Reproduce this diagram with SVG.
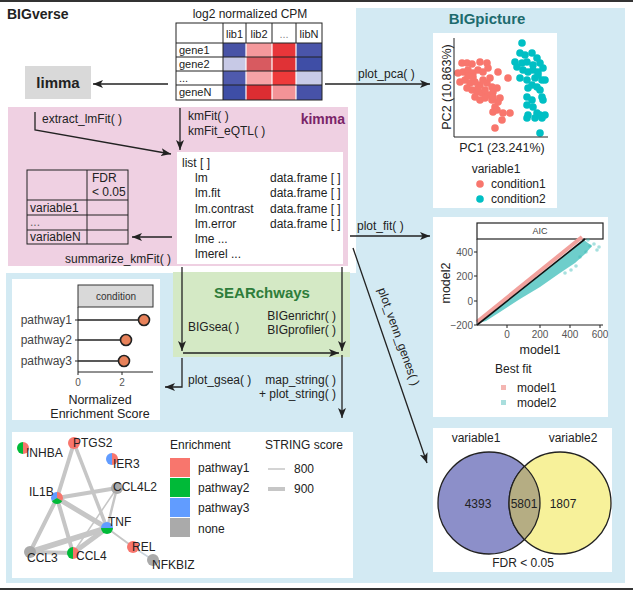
<svg xmlns="http://www.w3.org/2000/svg" width="633" height="591" viewBox="0 0 633 591">
<defs>
<style>
text{font-family:"Liberation Sans",Arial,Helvetica,sans-serif;fill:#222}
.t12{font-size:12px}
.t11{font-size:11px}
.t10{font-size:10px}
.t9{font-size:9px}
.b{font-weight:bold}
.mid{text-anchor:middle}
.end{text-anchor:end}
.ln{stroke:#222;stroke-width:1.3;fill:none}
.arr{marker-end:url(#ah)}
.grid{stroke:#222;stroke-width:1;fill:none}
.ax{stroke:#222;stroke-width:1;fill:none}
.tk{fill:#555}
.c1{fill:#F8766D}
.c2{fill:#00BFC4}
.edge{stroke:#c6c6c6;stroke-linecap:round;fill:none}
.panel{fill:#ffffff}
</style>
<marker id="ah" viewBox="0 0 10 8" refX="10" refY="4" markerWidth="10" markerHeight="8" markerUnits="userSpaceOnUse" orient="auto"><path d="M0,0 L10,4 L0,8 L2.5,4 Z" fill="#222"/></marker>
</defs>

<rect x="0" y="0" width="633" height="591" fill="#ffffff"/>
<line x1="0" y1="1" x2="633" y2="1" stroke="#333" stroke-width="2"/>
<line x1="0" y1="589" x2="633" y2="589" stroke="#333" stroke-width="2"/>

<!-- backgrounds -->
<path id="bigpicture-bg" d="M356,8 H625 V583 H6 V273 H356 Z" fill="#d3eaf3"/>
<rect id="kimma-bg" x="8" y="107" width="340" height="159" fill="#efd0e2"/>

<text class="b" x="7" y="19" style="font-size:14px">BIGverse</text>
<text class="b mid" x="487" y="24" style="font-size:15px;fill:#1d6b6e">BIGpicture</text>

<!-- heatmap node -->
<g id="heatmap">
<text class="t12 mid" x="250" y="18">log2 normalized CPM</text>
<rect x="176" y="23" width="146" height="77" fill="#fff"/>
<rect x="223" y="43" width="23" height="14" fill="#4853a6"/>
<rect x="246" y="43" width="26" height="14" fill="#f4999c"/>
<rect x="272" y="43" width="24" height="14" fill="#e8363a"/>
<rect x="296" y="43" width="26" height="14" fill="#4a55a9"/>
<rect x="223" y="57" width="23" height="14" fill="#c7c9e6"/>
<rect x="246" y="57" width="26" height="14" fill="#d85a60"/>
<rect x="272" y="57" width="24" height="14" fill="#e03236"/>
<rect x="296" y="57" width="26" height="14" fill="#3f4ea6"/>
<rect x="223" y="71" width="23" height="14" fill="#4f5aad"/>
<rect x="246" y="71" width="26" height="14" fill="#f6a3a6"/>
<rect x="272" y="71" width="24" height="14" fill="#ee3a3a"/>
<rect x="296" y="71" width="26" height="14" fill="#c8cbe8"/>
<rect x="223" y="85" width="23" height="15" fill="#3e4ea6"/>
<rect x="246" y="85" width="26" height="15" fill="#dc2d32"/>
<rect x="272" y="85" width="24" height="15" fill="#f39397"/>
<rect x="296" y="85" width="26" height="15" fill="#4752a8"/>
<g stroke="#fff" stroke-width="1.2">
<line x1="246" y1="43" x2="246" y2="100"/><line x1="272" y1="43" x2="272" y2="100"/><line x1="296" y1="43" x2="296" y2="100"/>
</g>
<rect class="grid" x="176" y="23" width="146" height="77"/>
<g class="grid">
<line x1="176" y1="43" x2="322" y2="43"/>
<line x1="176" y1="57" x2="322" y2="57"/>
<line x1="176" y1="71" x2="322" y2="71"/>
<line x1="176" y1="85" x2="322" y2="85"/>
<line x1="223" y1="23" x2="223" y2="100"/>
<line x1="246" y1="23" x2="246" y2="43"/>
<line x1="272" y1="23" x2="272" y2="43"/>
<line x1="296" y1="23" x2="296" y2="43"/>
</g>
<text class="t11 mid" x="234.5" y="38">lib1</text>
<text class="t11 mid" x="259" y="38">lib2</text>
<text class="t11 mid" x="284" y="38" style="fill:#888">...</text>
<text class="t11 mid" x="309" y="38">libN</text>
<text class="t11" x="179" y="54">gene1</text>
<text class="t11" x="179" y="68">gene2</text>
<text class="t11" x="179" y="82">...</text>
<text class="t11" x="179" y="96">geneN</text>
</g>

<!-- limma node -->
<g id="limma">
<rect x="25" y="66" width="66" height="33" fill="#d9d9d9"/>
<text class="b mid" x="58" y="88" style="font-size:15px">limma</text>
</g>

<!-- kimma -->
<g id="kimma">
<text class="b end" x="345" y="124" style="font-size:14px;fill:#7a2468">kimma</text>
<rect x="177" y="152" width="166" height="112" fill="#fff"/>
<text class="t12" x="182" y="167">list [ ]</text>
<text class="t12" x="195" y="182">lm</text><text class="t12" x="270" y="182">data.frame [ ]</text>
<text class="t12" x="195" y="197">lm.fit</text><text class="t12" x="270" y="197">data.frame [ ]</text>
<text class="t12" x="195" y="213">lm.contrast</text><text class="t12" x="270" y="213">data.frame [ ]</text>
<text class="t12" x="195" y="228">lm.error</text><text class="t12" x="270" y="228">data.frame [ ]</text>
<text class="t12" x="195" y="243">lme ...</text>
<text class="t12" x="195" y="258">lmerel ...</text>
</g>

<!-- FDR table -->
<g id="fdr-table">
<rect x="27" y="170" width="101" height="74" fill="#fff" class="grid"/>
<g class="grid">
<line x1="87" y1="170" x2="87" y2="244"/>
<line x1="27" y1="200" x2="128" y2="200"/>
<line x1="27" y1="215" x2="128" y2="215"/>
<line x1="27" y1="230" x2="128" y2="230"/>
</g>
<text class="t12" x="92" y="182">FDR</text>
<text class="t12" x="92" y="196">&lt; 0.05</text>
<text class="t12" x="30" y="212">variable1</text>
<text class="t12" x="30" y="226" style="fill:#666">...</text>
<text class="t12" x="30" y="241">variableN</text>
</g>

<!-- SEARchways -->
<g id="searchways">
<rect x="173" y="272" width="177" height="85" fill="#d4e9c5"/>
<text class="b mid" x="262" y="298" style="font-size:15px;fill:#2e7d3a">SEARchways</text>
<text class="t12" x="188" y="331">BIGsea( )</text>
<text class="t12 end" x="336" y="320">BIGenrichr( )</text>
<text class="t12 end" x="336" y="334">BIGprofiler( )</text>
</g>

<!-- PCA plot -->
<g id="pca-plot">
<rect class="panel" x="433" y="33" width="124" height="175"/>
<g class="c1">
<circle cx="462" cy="63" r="3.8"/><circle cx="467" cy="63" r="3.8"/><circle cx="472" cy="64" r="3.8"/><circle cx="480" cy="62" r="3.8"/><circle cx="487" cy="63" r="3.8"/>
<circle cx="458" cy="73" r="3.8"/><circle cx="463" cy="72" r="3.8"/><circle cx="468" cy="70" r="3.8"/><circle cx="473" cy="73" r="3.8"/><circle cx="478" cy="70" r="3.8"/>
<circle cx="483" cy="72" r="3.8"/><circle cx="488" cy="68" r="3.8"/><circle cx="498" cy="72" r="3.8"/><circle cx="460" cy="82" r="3.8"/><circle cx="465" cy="80" r="3.8"/>
<circle cx="470" cy="83" r="3.8"/><circle cx="475" cy="82" r="3.8"/><circle cx="480" cy="85" r="3.8"/><circle cx="487" cy="83" r="3.8"/><circle cx="492" cy="87" r="3.8"/>
<circle cx="497" cy="88" r="3.8"/><circle cx="467" cy="88" r="3.8"/><circle cx="472" cy="90" r="3.8"/><circle cx="477" cy="92" r="3.8"/><circle cx="482" cy="93" r="3.8"/>
<circle cx="488" cy="95" r="3.8"/><circle cx="493" cy="92" r="3.8"/><circle cx="500" cy="98" r="3.8"/><circle cx="475" cy="97" r="3.8"/><circle cx="480" cy="100" r="3.8"/>
<circle cx="485" cy="98" r="3.8"/><circle cx="492" cy="100" r="3.8"/><circle cx="495" cy="107" r="3.8"/><circle cx="493" cy="112" r="3.8"/><circle cx="497" cy="110" r="3.8"/>
<circle cx="503" cy="113" r="3.8"/><circle cx="510" cy="113" r="3.8"/><circle cx="502" cy="120" r="3.8"/><circle cx="495" cy="128" r="3.8"/><circle cx="508" cy="78" r="3.8"/>
<circle cx="468" cy="76" r="3.8"/><circle cx="473" cy="77" r="3.8"/><circle cx="483" cy="80" r="3.8"/><circle cx="490" cy="78" r="3.8"/><circle cx="478" cy="88" r="3.8"/>
<circle cx="485" cy="90" r="3.8"/><circle cx="493" cy="97" r="3.8"/><circle cx="498" cy="102" r="3.8"/>
</g>
<g class="c2">
<circle cx="522" cy="43" r="3.8"/><circle cx="520" cy="53" r="3.8"/><circle cx="525" cy="55" r="3.8"/><circle cx="532" cy="53" r="3.8"/><circle cx="537" cy="58" r="3.8"/>
<circle cx="515" cy="62" r="3.8"/><circle cx="522" cy="63" r="3.8"/><circle cx="527" cy="62" r="3.8"/><circle cx="533" cy="65" r="3.8"/><circle cx="540" cy="63" r="3.8"/>
<circle cx="543" cy="68" r="3.8"/><circle cx="523" cy="70" r="3.8"/><circle cx="528" cy="72" r="3.8"/><circle cx="533" cy="70" r="3.8"/><circle cx="538" cy="72" r="3.8"/>
<circle cx="520" cy="78" r="3.8"/><circle cx="527" cy="80" r="3.8"/><circle cx="535" cy="78" r="3.8"/><circle cx="542" cy="80" r="3.8"/><circle cx="545" cy="80" r="3.8"/>
<circle cx="532" cy="85" r="3.8"/><circle cx="537" cy="87" r="3.8"/><circle cx="540" cy="90" r="3.8"/><circle cx="528" cy="88" r="3.8"/><circle cx="527" cy="97" r="3.8"/>
<circle cx="532" cy="100" r="3.8"/><circle cx="542" cy="97" r="3.8"/><circle cx="543" cy="100" r="3.8"/><circle cx="527" cy="105" r="3.8"/><circle cx="533" cy="107" r="3.8"/>
<circle cx="528" cy="115" r="3.8"/><circle cx="537" cy="113" r="3.8"/><circle cx="540" cy="115" r="3.8"/><circle cx="545" cy="115" r="3.8"/><circle cx="527" cy="118" r="3.8"/>
<circle cx="535" cy="118" r="3.8"/><circle cx="542" cy="118" r="3.8"/><circle cx="540" cy="133" r="3.8"/><circle cx="517" cy="67" r="3.8"/><circle cx="538" cy="75" r="3.8"/>
</g>
<polyline class="ax" points="454,38 454,137 548,137"/>
<text class="mid" x="451" y="87" transform="rotate(-90 451 87)" style="font-size:12.5px">PC2 (10.863%)</text>
<text class="mid" x="502" y="152" style="font-size:12.5px">PC1 (23.241%)</text>
<text class="t12 mid" x="496" y="173">variable1</text>
<circle class="c1" cx="480" cy="184" r="3.8"/>
<text class="t12" x="491" y="188">condition1</text>
<circle class="c2" cx="480" cy="199" r="3.8"/>
<text class="t12" x="491" y="203">condition2</text>
</g>

<!-- AIC plot -->
<g id="aic-plot">
<rect class="panel" x="433" y="217" width="175" height="200"/>
<rect x="477" y="223" width="126" height="16" fill="#fff" stroke="#222" stroke-width="1.2"/>
<text class="t9 mid" x="540" y="234" style="fill:#444">AIC</text>
<polygon points="479,323 584,240 592,246 585,254 575,263 560,273 540,287 520,299 500,312 486,321" fill="#3dbdb9" opacity="0.75"/>
<g fill="#3dbdb9" opacity="0.45">
<circle cx="590" cy="246" r="1.8"/><circle cx="597" cy="250" r="1.8"/><circle cx="594" cy="244" r="1.8"/><circle cx="599" cy="247" r="1.8"/>
<circle cx="580" cy="257" r="1.8"/><circle cx="576" cy="266" r="1.8"/><circle cx="586" cy="252" r="1.8"/><circle cx="571" cy="270" r="1.8"/>
<circle cx="565" cy="273" r="1.8"/><circle cx="588" cy="240" r="1.8"/>
</g>
<line x1="477" y1="322" x2="582" y2="237" stroke="#f2a19d" stroke-width="4"/>
<line x1="477" y1="325" x2="585" y2="239" stroke="#111" stroke-width="1.6"/>
<polyline class="ax" points="477,239 477,325 603,325"/>
<g class="ax">
<line x1="474" y1="252" x2="477" y2="252"/><line x1="474" y1="276" x2="477" y2="276"/><line x1="474" y1="301" x2="477" y2="301"/><line x1="474" y1="325" x2="477" y2="325"/>
<line x1="507" y1="325" x2="507" y2="328"/><line x1="540" y1="325" x2="540" y2="328"/><line x1="570" y1="325" x2="570" y2="328"/><line x1="600" y1="325" x2="600" y2="328"/>
</g>
<text class="t10 end tk" x="473" y="256">400</text>
<text class="t10 end tk" x="473" y="280">200</text>
<text class="t10 end tk" x="473" y="305">0</text>
<text class="t10 end tk" x="473" y="329">−200</text>
<text class="t10 mid tk" x="507" y="338">0</text>
<text class="t10 mid tk" x="540" y="338">200</text>
<text class="t10 mid tk" x="570" y="338">400</text>
<text class="t10 mid tk" x="600" y="338">600</text>
<text class="mid" x="450" y="283" transform="rotate(-90 450 283)" style="font-size:12.5px">model2</text>
<text class="mid" x="540" y="354" style="font-size:12.5px">model1</text>
<text class="t12" x="495" y="373">Best fit</text>
<rect x="501" y="385" width="5" height="5" fill="#f4b6b2"/>
<text class="t12" x="517" y="392">model1</text>
<rect x="501" y="400" width="5" height="5" fill="#a9dedd"/>
<text class="t12" x="517" y="407">model2</text>
</g>

<!-- Venn -->
<g id="venn">
<rect class="panel" x="433" y="428" width="179" height="144"/>
<circle cx="489" cy="503" r="51" fill="#8c8fc9" stroke="#222" stroke-width="1.3"/>
<circle cx="560" cy="503" r="51" fill="#f7f19a" stroke="#222" stroke-width="1.3"/>
<path d="M524.5,466.4 A51,51 0 0 1 524.5,539.6 A51,51 0 0 1 524.5,466.4 Z" fill="#b5ad83" stroke="#222" stroke-width="1.3"/>
<text class="t12 mid" x="476" y="442">variable1</text>
<text class="t12 mid" x="573" y="442">variable2</text>
<text class="t12 mid" x="478" y="508">4393</text>
<text class="t12 mid" x="524" y="508">5801</text>
<text class="t12 mid" x="563" y="508">1807</text>
<text class="t12 mid" x="523" y="567">FDR &lt; 0.05</text>
</g>

<!-- dot plot -->
<g id="dotplot">
<rect class="panel" x="12" y="279" width="148" height="141"/>
<rect x="78" y="285" width="75" height="22" fill="#d9d9d9" stroke="#333" stroke-width="1"/>
<text class="t10 mid" x="116" y="300" style="fill:#333">condition</text>
<polyline class="ax" points="78,307 78,372 153,372"/>
<g class="ax">
<line x1="75" y1="320" x2="78" y2="320"/><line x1="75" y1="340" x2="78" y2="340"/><line x1="75" y1="361" x2="78" y2="361"/>
<line x1="78" y1="372" x2="78" y2="375"/><line x1="122" y1="372" x2="122" y2="375"/>
</g>
<g stroke="#222" stroke-width="1.6">
<line x1="78" y1="320" x2="144" y2="320"/><line x1="78" y1="340" x2="126" y2="340"/><line x1="78" y1="361" x2="124" y2="361"/>
</g>
<g fill="#e8825a" stroke="#222" stroke-width="1.6">
<circle cx="144" cy="320" r="5.5"/><circle cx="126" cy="340" r="5.5"/><circle cx="124" cy="361" r="5.5"/>
</g>
<text class="t12 end" x="72" y="324" style="fill:#444">pathway1</text>
<text class="t12 end" x="72" y="344" style="fill:#444">pathway2</text>
<text class="t12 end" x="72" y="365" style="fill:#444">pathway3</text>
<text class="t10 mid tk" x="78" y="386">0</text>
<text class="t10 mid tk" x="122" y="386">2</text>
<text class="mid" x="100" y="404" style="font-size:12.5px">Normalized</text>
<text class="mid" x="100" y="418" style="font-size:12.5px">Enrichment Score</text>
</g>

<!-- network -->
<g id="network">
<rect class="panel" x="12" y="432" width="341" height="146"/>
<g class="edge">
<line x1="74" y1="443" x2="57" y2="498" stroke-width="4"/>
<line x1="74" y1="443" x2="107" y2="528" stroke-width="3.5"/>
<line x1="57" y1="498" x2="117" y2="488" stroke-width="4"/>
<line x1="57" y1="498" x2="107" y2="528" stroke-width="5"/>
<line x1="57" y1="498" x2="30" y2="552" stroke-width="4"/>
<line x1="57" y1="498" x2="73" y2="553" stroke-width="4"/>
<line x1="117" y1="488" x2="107" y2="528" stroke-width="2.5"/>
<line x1="117" y1="488" x2="73" y2="553" stroke-width="1.5"/>
<line x1="30" y1="552" x2="107" y2="528" stroke-width="5.5"/>
<line x1="30" y1="552" x2="73" y2="553" stroke-width="4"/>
<line x1="73" y1="553" x2="107" y2="528" stroke-width="5"/>
<line x1="107" y1="528" x2="133" y2="547" stroke-width="2"/>
<line x1="133" y1="547" x2="153" y2="560" stroke-width="1.5" stroke="#c9d3dc"/>
</g>
<!-- nodes -->
<path d="M23,442 A6,6 0 0 0 23,454 Z" fill="#00BA38"/><path d="M23,442 A6,6 0 0 1 23,454 Z" fill="#F8766D"/>
<circle cx="74" cy="443" r="6" fill="#F8766D"/>
<path d="M112,453 A6,6 0 0 0 112,465 Z" fill="#619CFF"/><path d="M112,453 A6,6 0 0 1 112,465 Z" fill="#F8766D"/>
<circle cx="117" cy="488" r="6" fill="#aaaaaa"/>
<path d="M57,498 L51.8,501 A6,6 0 0 1 57,492 Z" fill="#619CFF"/>
<path d="M57,498 L57,492 A6,6 0 0 1 62.2,501 Z" fill="#F8766D"/>
<path d="M57,498 L62.2,501 A6,6 0 0 1 51.8,501 Z" fill="#00BA38"/>
<path d="M101,528 A6,6 0 0 1 113,528 Z" fill="#619CFF"/><path d="M101,528 A6,6 0 0 0 113,528 Z" fill="#00BA38"/>
<circle cx="133" cy="547" r="6" fill="#F8766D"/>
<circle cx="30" cy="552" r="6" fill="#aaaaaa"/>
<path d="M73,547 A6,6 0 0 0 73,559 Z" fill="#00BA38"/><path d="M73,547 A6,6 0 0 1 73,559 Z" fill="#F8766D"/>
<circle cx="153" cy="560" r="6" fill="#aaaaaa"/>
<g class="t12">
<text x="26" y="457">INHBA</text>
<text x="73" y="447">PTGS2</text>
<text x="113" y="468">IER3</text>
<text x="113" y="491">CCL4L2</text>
<text x="29" y="496">IL1B</text>
<text x="108" y="526">TNF</text>
<text x="132" y="551">REL</text>
<text x="27" y="562">CCL3</text>
<text x="76" y="560">CCL4</text>
<text x="152" y="569">NFKBIZ</text>
</g>
<text class="t12" x="170" y="449">Enrichment</text>
<rect x="170" y="458" width="20" height="19" fill="#F8766D"/>
<rect x="170" y="478" width="20" height="19" fill="#00BA38"/>
<rect x="170" y="498" width="20" height="19" fill="#619CFF"/>
<rect x="170" y="518" width="20" height="19" fill="#aaaaaa"/>
<text class="t12" x="198" y="472">pathway1</text>
<text class="t12" x="198" y="492">pathway2</text>
<text class="t12" x="198" y="512">pathway3</text>
<text class="t12" x="198" y="533">none</text>
<text class="t12" x="265" y="449">STRING score</text>
<line x1="268" y1="469" x2="285" y2="469" stroke="#c6c6c6" stroke-width="1.5"/>
<line x1="268" y1="489" x2="285" y2="489" stroke="#c6c6c6" stroke-width="4"/>
<text class="t12" x="294" y="473">800</text>
<text class="t12" x="294" y="493">900</text>
</g>

<!-- connectors -->
<g id="connectors">
<line class="ln arr" x1="168" y1="84" x2="93" y2="84"/>
<line class="ln arr" x1="325" y1="84" x2="430" y2="84"/>
<text class="t12" x="358" y="78">plot_pca( )</text>
<polyline class="ln arr" points="35,112 35,130 171,154"/>
<text class="t12" x="42" y="123">extract_lmFit( )</text>
<line class="ln arr" x1="180" y1="108" x2="180" y2="150"/>
<text class="t12" x="188" y="120">kmFit( )</text>
<text class="t12" x="188" y="135">kmFit_eQTL( )</text>
<line class="ln arr" x1="172" y1="237" x2="132" y2="237"/>
<text class="t12" x="65" y="263">summarize_kmFit( )</text>
<line class="ln arr" x1="350" y1="236" x2="430" y2="236"/>
<text class="t12" x="357" y="230">plot_fit( )</text>
<line class="ln arr" x1="353" y1="248" x2="427" y2="463"/>
<text class="t12 mid" x="395" y="338" transform="rotate(70.5 395 338)">plot_venn_genes( )</text>
<line class="ln arr" x1="182" y1="267" x2="182" y2="351"/>
<line class="ln arr" x1="342" y1="267" x2="342" y2="351"/>
<line class="ln arr" x1="183" y1="353" x2="339" y2="353"/>
<polyline class="ln arr" points="182,358 182,387 165,387"/>
<line class="ln arr" x1="342" y1="355" x2="342" y2="418"/>
<text class="t12" x="188" y="384">plot_gsea( )</text>
<text class="t12 end" x="336" y="384">map_string( )</text>
<text class="t12 end" x="336" y="398">+ plot_string( )</text>
</g>
</svg>
